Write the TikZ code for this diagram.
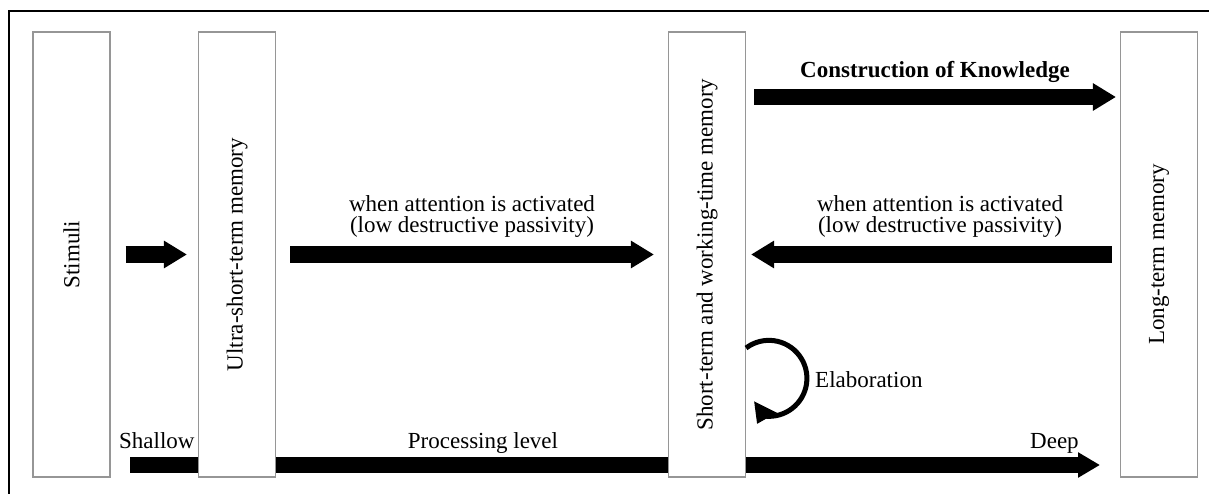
\documentclass[tikz,border=0pt]{standalone}
\usepackage{fontspec}
\setmainfont{Liberation Serif}
\usetikzlibrary{arrows.meta,backgrounds,calc}
\definecolor{boxgray}{RGB}{150,150,150}

\begin{document}
\begin{tikzpicture}[x=1pt,y=-1pt,
  txt/.style={font=\fontsize{23}{25}\selectfont, inner sep=0pt},
  memorybox/.style={draw=boxgray, line width=1.1pt, fill=white,
    minimum width=77pt, minimum height=445pt, inner sep=0pt,
    font=\fontsize{23}{25}\selectfont},
  blockarrow/.style={line width=16pt, -{Triangle[width=26pt,length=23pt]}},
  looparrow/.style={line width=5pt, -{Triangle[width=24pt,length=19pt]}},
]
\useasboundingbox (0,0) rectangle (1209,494);

% frame along the top and left edges
\draw[line width=1.2pt] (9,494) -- (9,11) -- (1209,11);

% memory stages
\node[memorybox] (stim)  at (71.5,254.5) {\rotatebox{90}{Stimuli}};
\node[memorybox] (ultra) at (237,254.5)  {\rotatebox{90}{Ultra-short-term memory}};
\node[memorybox] (stwm)  at (707,254.5)  {\rotatebox{90}{Short-term and working-time memory}};
\node[memorybox] (ltm)   at (1159,254.5) {\rotatebox{90}{Long-term memory}};

% flows between stages
\draw[blockarrow, shorten <=15pt, shorten >=11pt] (stim) -- (ultra);
\draw[blockarrow, shorten <=14pt, shorten >=14pt] (ultra) -- (stwm);
\draw[blockarrow, shorten <=8pt, shorten >=5pt] (ltm) -- (stwm);
\draw[blockarrow, shorten <=8pt, shorten >=4pt] (stwm.east |- 0,97) -- (ltm.west |- 0,97);

\node[txt, anchor=base] at (472,212) {when attention is activated};
\node[txt, anchor=base] at (472,233) {(low destructive passivity)};
\node[txt, anchor=base] at (940,212) {when attention is activated};
\node[txt, anchor=base] at (940,233) {(low destructive passivity)};
\node[txt, anchor=base, font=\fontsize{23}{25}\selectfont\bfseries] at (935,78) {Construction of Knowledge};

% elaboration loop on the working memory
\coordinate (elabS) at (stwm.east |- 0,348);
\draw[looparrow] (elabS) arc[start angle=-127, end angle=95, radius=38]
  .. controls (761,416) .. (757,424);
\node[txt, anchor=west] at (815,380) {Elaboration};

% processing depth axis, running behind the boxes
\coordinate (shallow) at (130,465);
\coordinate (deep) at (1100,465);
\begin{scope}[on background layer]
  \draw[blockarrow, -{Triangle[width=24pt,length=22pt]}] (shallow) -- (deep);
\end{scope}
\node[txt, anchor=base west] at (119,448) {Shallow};
\node[txt, anchor=base] at (483,448) {Processing level};
\node[txt, anchor=base west] at (1030,448) {Deep};
\end{tikzpicture}
\end{document}
